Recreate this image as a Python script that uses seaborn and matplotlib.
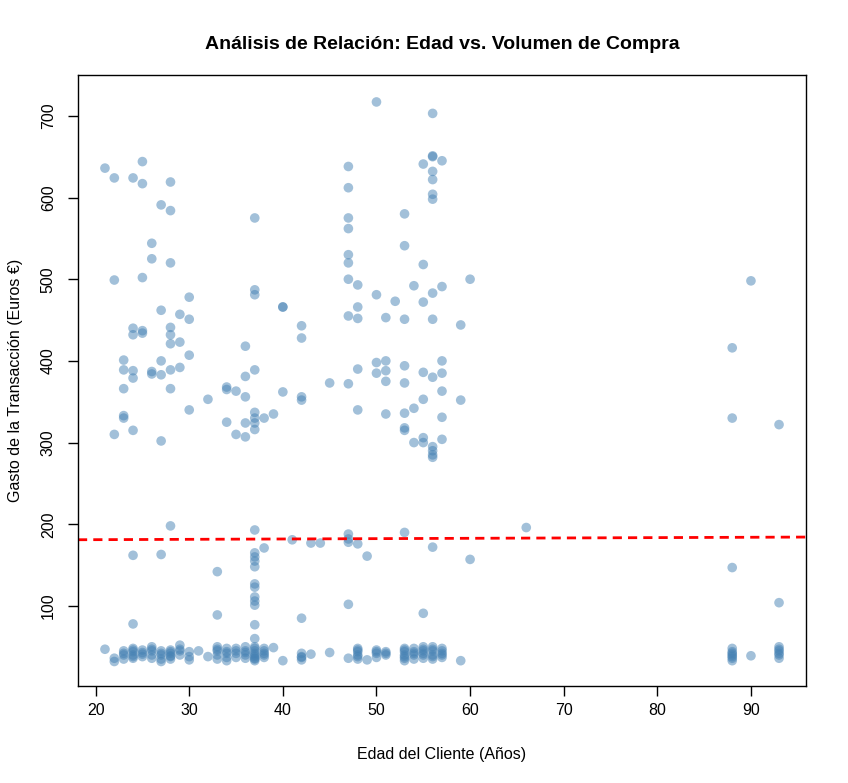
import matplotlib
matplotlib.use("Agg")
import matplotlib.pyplot as plt
import seaborn as sns
import pandas as pd
import numpy as np

# ---- data ----
# higher-value transactions: (age, spend)
edad_alta = [21, 22, 22, 22, 23, 23, 23, 23, 23,
             24, 24, 24, 24, 24, 24, 24, 24,
             25, 25, 25, 25, 25, 26, 26, 26, 26,
             27, 27, 27, 27, 27, 27,
             28, 28, 28, 28, 28, 28, 28, 28, 28,
             29, 29, 29, 30, 30, 30, 30, 32, 33, 33,
             34, 34, 34, 35, 35, 36, 36, 36, 36, 36,
             37, 37, 37, 37, 37, 37, 37, 37, 37, 37, 37, 37, 37, 37, 37, 37, 37, 37, 37, 37,
             38, 38, 39, 40, 40, 40, 41, 42, 42, 42, 42, 42, 43, 44, 45,
             47, 47, 47, 47, 47, 47, 47, 47, 47, 47, 47, 47, 47,
             48, 48, 48, 48, 48, 48, 49, 50, 50, 50, 50,
             51, 51, 51, 51, 51, 52,
             53, 53, 53, 53, 53, 53, 53, 53, 53, 54, 54, 54,
             55, 55, 55, 55, 55, 55, 55, 55,
             56, 56, 56, 56, 56, 56, 56, 56, 56, 56, 56, 56, 56, 56, 56,
             57, 57, 57, 57, 57, 57, 57, 59, 59, 60, 60, 66,
             88, 88, 88, 90, 93, 93]
gasto_alto = [636, 624, 499, 310, 401, 389, 366, 333, 330,
              624, 440, 432, 388, 379, 315, 162, 78,
              644, 617, 502, 437, 434, 544, 525, 387, 384,
              591, 462, 400, 383, 302, 163,
              619, 584, 520, 441, 432, 421, 389, 366, 198,
              457, 423, 392, 478, 451, 407, 340, 353, 142, 89,
              368, 365, 325, 363, 310, 418, 381, 356, 324, 307,
              575, 487, 481, 389, 337, 330, 324, 316, 193, 165, 160, 155, 148, 127, 123, 111, 106, 101, 77, 60,
              330, 171, 335, 466, 466, 362, 181, 443, 428, 356, 352, 85, 177, 177, 373,
              638, 612, 575, 562, 530, 520, 500, 455, 372, 188, 182, 178, 102,
              493, 466, 452, 390, 340, 176, 161, 717, 481, 398, 385,
              453, 400, 388, 375, 335, 473,
              580, 541, 451, 394, 373, 336, 318, 315, 190, 492, 342, 300,
              641, 518, 472, 386, 353, 306, 300, 91,
              703, 651, 650, 632, 622, 604, 598, 483, 451, 380, 295, 290, 285, 282, 172,
              645, 491, 400, 385, 363, 331, 304, 444, 352, 500, 157, 196,
              416, 330, 147, 498, 322, 104]

# small transactions (the dense band near the bottom)
edad_baja = [21, 22, 22, 23, 23, 23, 24, 24, 24, 24, 25, 25, 25,
             26, 26, 26, 26, 27, 27, 27, 27, 28, 28, 28, 28,
             29, 29, 29, 30, 30, 30, 31, 32, 33, 33, 33, 33,
             34, 34, 34, 34, 35, 35, 35, 36, 36, 36, 36,
             37, 37, 37, 37, 37, 38, 38, 38, 39, 40, 42, 42, 42, 43, 45,
             47, 48, 48, 48, 48, 49, 50, 50, 50, 51, 51,
             53, 53, 53, 53, 53, 54, 54, 54, 54, 55, 55, 55, 55,
             56, 56, 56, 56, 57, 57, 57, 59,
             88, 88, 88, 88, 88, 90, 93, 93, 93, 93]
gasto_bajo = [47, 36, 32, 45, 40, 35, 48, 44, 40, 36, 46, 41, 38,
              50, 45, 40, 36, 45, 40, 35, 32, 46, 42, 38, 35,
              52, 45, 40, 44, 38, 34, 45, 38, 50, 45, 40, 35,
              48, 42, 37, 33, 48, 42, 37, 50, 45, 40, 36,
              50, 45, 40, 36, 33, 48, 42, 37, 49, 33, 42, 37, 34, 41, 43,
              36, 48, 44, 38, 35, 34, 46, 42, 37, 44, 40,
              48, 44, 40, 36, 33, 48, 44, 40, 35, 50, 45, 40, 36,
              50, 45, 40, 35, 48, 42, 37, 33,
              48, 44, 40, 36, 33, 39, 50, 45, 40, 36]

# repeated small purchases that overlap inside the band (darker blobs)
edad_repetida = [23, 24, 24, 25, 26, 27, 28, 28, 29, 33, 34, 35, 36,
                 37, 37, 37, 37, 38, 38, 42, 48, 48, 50, 51,
                 53, 53, 54, 55, 55, 56, 56, 57, 57, 88, 88, 93, 93]
gasto_repetido = [42, 46, 38, 43, 47, 42, 44, 39, 47, 47, 44, 45, 43,
                  48, 42, 38, 35, 45, 40, 38, 46, 40, 44, 42,
                  46, 38, 42, 47, 42, 47, 38, 45, 40, 42, 38, 47, 42]

# fitted trend line (intercept, slope)
tendencia_intercepto = 180.3
tendencia_pendiente = 0.042

x_ticks = [20, 30, 40, 50, 60, 70, 80, 90]
y_ticks = [100, 200, 300, 400, 500, 600, 700]

titulo = "Análisis de Relación: Edad vs. Volumen de Compra"
etiqueta_x = "Edad del Cliente (Años)"
etiqueta_y = "Gasto de la Transacción (Euros €)"

df = pd.DataFrame({
    "edad": edad_alta + edad_baja + edad_repetida,
    "gasto": gasto_alto + gasto_bajo + gasto_repetido,
})

# ---- plot ----
sns.set_style("white")
plt.rcParams["font.family"] = ["Liberation Sans", "DejaVu Sans"]
plt.rcParams["text.color"] = "black"
plt.rcParams["axes.labelcolor"] = "black"

fig = plt.figure(figsize=(8.48, 7.83), dpi=100)
ax = fig.add_axes([78 / 848, 1 - 686 / 783, (806 - 78) / 848, (686 - 75) / 783])

sns.scatterplot(data=df, x="edad", y="gasto", ax=ax, color="steelblue",
                alpha=0.5, s=48, edgecolor="none", linewidth=0)

ax.axline((0, tendencia_intercepto), slope=tendencia_pendiente,
          color="red", linestyle=(0, (3.3, 2.2)), linewidth=2)

ax.set_xlim(18.12, 95.88)
ax.set_ylim(2, 750)
ax.set_xticks(x_ticks)
ax.set_yticks(y_ticks)
ax.set_yticklabels([str(v) for v in y_ticks], rotation=90, va="center")
ax.tick_params(axis="both", direction="out", length=7, width=1, labelsize=11.5,
               color="black", labelcolor="black", bottom=True, left=True)
ax.tick_params(axis="y", pad=9)
ax.tick_params(axis="x", pad=5)
for sp in ax.spines.values():
    sp.set_color("black")
    sp.set_linewidth(1)

ax.set_xlabel(etiqueta_x, fontsize=11.5, labelpad=21)
ax.set_ylabel(etiqueta_y, fontsize=11.5, labelpad=13)
ax.set_title(titulo, fontsize=14, fontweight="bold", pad=19, color="black")

fig.savefig("out.png", dpi=100)
